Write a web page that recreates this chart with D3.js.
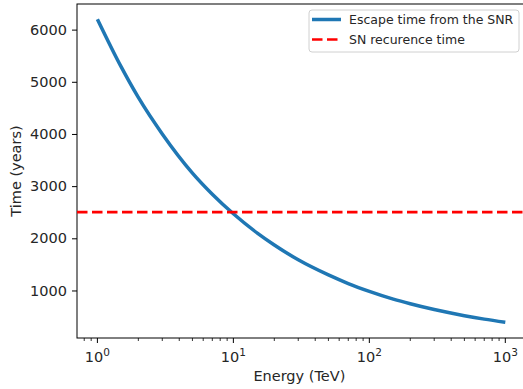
<!DOCTYPE html>
<html>
<head>
<meta charset="utf-8">
<script src="https://cdn.jsdelivr.net/npm/d3@7"></script>
<style>
  body { margin: 0; background: #fff; }
  svg { display: block; font-family: "DejaVu Sans", sans-serif; }
</style>
</head>
<body>
<svg id="chart" width="523" height="389"></svg>
<script>
// values
const energy = [1, 1.5, 2, 3, 5, 7, 10, 15, 20, 30, 50, 70, 100, 150, 200, 300, 500, 700, 1000];
const escapeTime = [6200, 5280, 4700, 4000, 3250, 2845, 2470, 2100, 1872, 1588, 1298, 1133, 983, 834, 745, 634, 517, 451, 391];
const recurrence = 2500;
const yTicks = [1000, 2000, 3000, 4000, 5000, 6000];
const xTicks = [1, 10, 100, 1000];
const seriesNames = ["Escape time from the SNR", "SN recurence time"];

const box = {left: 77, top: 4, right: 525.7, bottom: 338};

const svg = d3.select("#chart");

const x = d3.scaleLog().domain([0.7079, 1412.5]).range([box.left, box.right]);
const y = d3.scaleLinear().domain([89, 6491]).range([box.bottom, box.top]);

// minor ticks on the log axis
const minor = [];
for (let d = 0.1; d <= 1000; d *= 10) {
  for (let k = 2; k <= 9; k++) {
    const v = d * k;
    if (v >= x.domain()[0] && v <= x.domain()[1]) minor.push(v);
  }
}

const xAxis = svg.append("g")
  .attr("transform", `translate(0,${box.bottom})`);

xAxis.selectAll("line.minor").data(minor).enter().append("line")
  .attr("class", "minor")
  .attr("x1", d => x(d)).attr("x2", d => x(d))
  .attr("y1", 0).attr("y2", 3)
  .attr("stroke", "#000").attr("stroke-width", 0.8);

xAxis.selectAll("line.major").data(xTicks).enter().append("line")
  .attr("class", "major")
  .attr("x1", d => x(d)).attr("x2", d => x(d))
  .attr("y1", 0).attr("y2", 5)
  .attr("stroke", "#000").attr("stroke-width", 1);

const xl = xAxis.selectAll("text.tl").data(xTicks).enter().append("text")
  .attr("class", "tl")
  .attr("x", d => x(d))
  .attr("y", 24)
  .attr("text-anchor", "middle")
  .attr("font-size", 14.5)
  .attr("fill", "#262626");
xl.append("tspan").text("10");
xl.append("tspan")
  .attr("dy", -6)
  .attr("font-size", 10.5)
  .text(d => Math.round(Math.log10(d)));

svg.append("g")
  .attr("transform", `translate(${box.left},0)`)
  .call(d3.axisLeft(y).tickValues(yTicks).tickSize(5).tickPadding(5).tickFormat(d3.format("d")))
  .call(g => g.select(".domain").remove())
  .call(g => g.selectAll("text").attr("font-size", 14.5).attr("font-family", "DejaVu Sans, sans-serif").attr("fill", "#262626"));

// spines
svg.append("rect")
  .attr("x", box.left).attr("y", box.top)
  .attr("width", box.right - box.left).attr("height", box.bottom - box.top)
  .attr("fill", "none").attr("stroke", "#000").attr("stroke-width", 1);

// series
const line = d3.line()
  .x((d, i) => x(energy[i]))
  .y(d => y(d))
  .curve(d3.curveMonotoneX);

svg.append("path")
  .datum(escapeTime)
  .attr("d", line)
  .attr("fill", "none")
  .attr("stroke", "#1f77b4")
  .attr("stroke-width", 3.5);

svg.append("line")
  .attr("x1", box.left).attr("x2", box.right)
  .attr("y1", y(recurrence)).attr("y2", y(recurrence))
  .attr("stroke", "#ff0000")
  .attr("stroke-width", 2.7)
  .attr("stroke-dasharray", "10.5,4.5");

// axis labels
svg.append("text")
  .attr("x", (box.left + box.right) / 2 - 2)
  .attr("y", 381)
  .attr("text-anchor", "middle")
  .attr("font-size", 14.5)
  .attr("fill", "#262626")
  .text("Energy (TeV)");

svg.append("text")
  .attr("transform", `translate(21,${(box.top + box.bottom) / 2}) rotate(-90)`)
  .attr("text-anchor", "middle")
  .attr("font-size", 14.5)
  .attr("fill", "#262626")
  .text("Time (years)");

// legend
const lg = svg.append("g").attr("transform", "translate(309,10)");
lg.append("rect")
  .attr("width", 210).attr("height", 42)
  .attr("rx", 3)
  .attr("fill", "#fff").attr("fill-opacity", 0.8)
  .attr("stroke", "#d0d0d0").attr("stroke-width", 1);

const styles = [
  {stroke: "#1f77b4", width: 3.5, dash: null},
  {stroke: "#ff0000", width: 2.7, dash: "10.5,4.5"}
];
seriesNames.forEach((name, i) => {
  const yy = 9.5 + i * 20;
  lg.append("line")
    .attr("x1", 3).attr("x2", 32)
    .attr("y1", yy).attr("y2", yy)
    .attr("stroke", styles[i].stroke)
    .attr("stroke-width", styles[i].width)
    .attr("stroke-dasharray", styles[i].dash);
  lg.append("text")
    .attr("x", 40).attr("y", yy + 4.5)
    .attr("font-size", 12.5)
    .attr("fill", "#262626")
    .text(name);
});
</script>
</body>
</html>
